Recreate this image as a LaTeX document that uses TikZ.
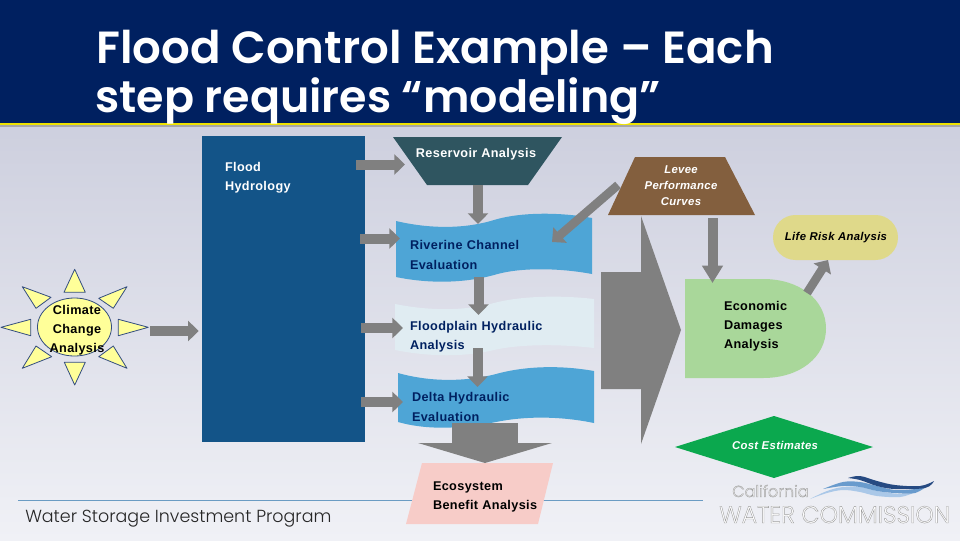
\documentclass[tikz,border=0pt]{standalone}
\usepackage{fontspec}
\usetikzlibrary{calc,arrows.meta,shapes.geometric}
\setmainfont{Liberation Sans}
\newfontfamily\bodyf[LetterSpace=3]{Liberation Sans}
\newfontfamily\titlef{Poppins SemiBold}
\newfontfamily\footf{Poppins Light}
\newfontfamily\logof[FakeStretch=0.98]{Poppins Light}
\definecolor{navy}{RGB}{0,32,96}
\definecolor{txtnavy}{RGB}{0,32,96}
\definecolor{hydroc}{RGB}{19,84,136}
\definecolor{resc}{RGB}{47,85,96}
\definecolor{wave}{RGB}{78,165,214}
\definecolor{wavelt}{RGB}{224,236,242}
\definecolor{rosec}{RGB}{247,204,200}
\definecolor{levc}{RGB}{131,95,62}
\definecolor{econc}{RGB}{169,215,154}
\definecolor{lifec}{RGB}{223,217,138}
\definecolor{diac}{RGB}{11,168,78}
\definecolor{sunc}{RGB}{255,255,153}
\definecolor{arrc}{RGB}{128,128,128}
\definecolor{lgd}{RGB}{38,74,130}
\definecolor{lgm}{RGB}{105,155,205}
\definecolor{lgl}{RGB}{170,200,232}
\tikzset{
 lbl/.style={inner sep=0pt,font=\bodyf\bfseries\fontsize{9.5}{14.4}\selectfont,align=left},
 ilbl/.style={lbl,font=\bodyf\bfseries\itshape\fontsize{8.5}{12}\selectfont,align=center},
 ttl/.style={anchor=base west,inner sep=0pt,text=white},
 blk/.style={draw=arrc,line width=7.5pt,-{Triangle[length=8pt,width=15pt,fill=arrc]}},
 ray/.style={fill=sunc,draw=navy!80,line width=.6pt,line join=round},
 wv/.style={smooth,tension=.6},
}
\newcommand{\outl}[1]{\special{pdf:code 2 Tr 0.3 w 0.62 G}#1\special{pdf:code 0 Tr 0 G}}
\begin{document}
\begin{tikzpicture}[x=0.75pt,y=-0.75pt]
\useasboundingbox (0,0) rectangle (960,540);
\shade[top color={rgb,255:red,205;green,207;blue,222},bottom color={rgb,255:red,240;green,241;blue,246}] (0,120) rectangle (960,540);
\fill[navy] (0,0) rectangle (960,123);
\fill[gray!70] (0,124) rectangle (960,126.5);
\fill[yellow!85!olive] (0,122.6) rectangle (960,124.6);
\node[ttl,font=\titlef\fontsize{33.8}{34}\selectfont] (title1) at (96,63) {Flood Control Example – Each};
\node[ttl,font=\titlef\fontsize{33.3}{34}\selectfont] (title2) at (95,112) {step requires “modeling”};
% footer
\draw[draw={rgb,255:red,106;green,155;blue,195},line width=.7pt] (18,500.5) coordinate (fl) -- (703,500.5) coordinate (fr);
\node[anchor=base west,inner sep=0pt,text=black!85,font=\footf\fontsize{13.1}{14}\selectfont] (foot) at (25,522) {Water Storage Investment Program};
% hydrology
\node[fill=hydroc,inner sep=0pt,minimum width=163*.75pt,minimum height=306*.75pt] (hydro) at (283.5,289) {};
\node[lbl,text=white,text width=117*.75pt] (hydroT) at (283.5,178) {Flood\\Hydrology};
% shapes
\fill[resc] (393,137) -- (562,137) -- (528,185) -- (427,185) -- cycle;
\node[lbl,text=white] (res) at (476,154) {Reservoir Analysis};
\fill[wave] (396,221) .. controls (430,229) and (465,229) .. (494,220) .. controls (520,212) and (560,212) .. (592,218) -- (592,274) .. controls (560,268) and (520,267) .. (494,275) .. controls (465,283) and (430,284) .. (396,277) -- cycle;
\node[lbl,text=txtnavy,text width=168*.75pt] (riv) at (494,255) {Riverine Channel\\Evaluation};
\fill[wavelt] (395,304) .. controls (430,311) and (465,311) .. (494,303) .. controls (520,296) and (560,295) .. (594,299) -- (594,348) .. controls (560,344) and (520,344) .. (494,350) .. controls (465,357) and (430,357) .. (395,350) -- cycle;
\node[lbl,text=txtnavy,text width=169*.75pt] (flp) at (494.5,337) {Floodplain Hydraulic\\Analysis};
\fill[wave] (398,373) .. controls (430,382) and (465,382) .. (496,374) .. controls (525,366) and (560,365) .. (594,371) -- (594,423) .. controls (560,416) and (525,416) .. (496,422) .. controls (465,428) and (430,431) .. (398,422) -- cycle;
\node[lbl,text=txtnavy,text width=168*.75pt] (del) at (496,407) {Delta Hydraulic\\Evaluation};
\fill[rosec] (422,463) -- (553,463) -- (538,524) -- (406,524) -- cycle;
\node[lbl,text=black,text width=110*.75pt] (eco) at (488,497) {Ecosystem\\Benefit Analysis};
\fill[levc] (635,157) -- (725,157) -- (755,215) -- (608,215) -- cycle;
\node[ilbl,text=white] (lev) at (681,186) {Levee\\Performance\\Curves};
\fill[econc] (685,279) -- (763,279) .. controls (800,279) and (826,300) .. (826,328.5) .. controls (826,357) and (800,378) .. (763,378) -- (685,378) -- cycle;
\node[lbl,text=black,text width=63*.75pt] (econ) at (755.5,326) {Economic\\Damages\\Analysis};
\fill[lifec,rounded corners=16.8pt] (773,215) rectangle (898,260);
\node[ilbl,text=black] (life) at (836,238) {Life Risk Analysis};
\fill[diac] (675,447) -- (774,416) -- (873,447) -- (774,478) -- cycle;
\node[ilbl,text=white] (dia) at (775,445) {Cost Estimates};
% sun
\foreach \p in {{(74.7,269.3) -- (64,292.3) -- (85.3,292.3)},{(148.3,327.3) -- (118.3,319.3) -- (118.3,335.7)},{(1,327.3) -- (30.7,319.3) -- (30.7,335.7)},{(74.7,385) -- (64.3,362.3) -- (85.3,362.3)},{(127,286.7) -- (98.7,298.3) -- (113.3,308.3)},{(22.3,286.7) -- (51,297.3) -- (36,308.3)},{(22.3,368.3) -- (36,346) -- (51.7,356.7)},{(127,368.3) -- (113.3,346) -- (98.7,356.7)}}{\draw[ray] \p -- cycle;}
\node[ellipse,draw=navy!80,line width=.6pt,fill=sunc,minimum width=74*.75pt,minimum height=58*.75pt,inner sep=0pt] (sunb) at (74.5,327) {};
\node[lbl,align=center,text=black] (sun) at (77,330.5) {Climate\\Change\\Analysis};
% big arrow
\fill[arrc] (601,272) -- (641,272) -- (641,216) -- (681,330) -- (641,444) -- (641,389) -- (601,389) -- cycle;
% connectors
\draw[blk] ($(sunb)+(75.5,4)$) -- ($(hydro.west)+(-3,42)$);
\draw[blk] ($(hydro.east)+(-9,-124.5)$) -- ($(res)+(-71,10.5)$);
\draw[blk] ($(hydro.east)+(-5,-50.5)$) -- ($(riv)+(-94,-16.5)$);
\draw[blk] ($(hydro.east)+(-4,39)$) -- ($(flp)+(-91.5,-9)$);
\draw[blk] ($(hydro.east)+(-4,113)$) -- ($(del)+(-93,-5)$);
\draw[blk] ($(res)+(2,31)$) -- ($(riv)+(-16,-31)$);
\draw[blk] ($(riv)+(-15.5,22)$) -- ($(flp)+(-16,-22)$);
\draw[blk] ($(flp)+(-17,11)$) -- ($(del)+(-18.5,-20)$);
\draw[draw=arrc,line width=49.5pt,-{Triangle[length=15pt,width=100pt,fill=arrc]}] ($(del)+(-11,16)$) -- ($(eco)+(-3,-34)$);
\draw[blk,line width=6.5pt] ($(lev)+(-63,-1)$) -- ($(riv)+(58,-13)$);
\draw[blk,-{Triangle[length=13pt,width=15pt,fill=arrc]}] ($(lev)+(31.5,32)$) -- ($(econ)+(-43,-43)$);
\draw[blk,line width=6.5pt] ($(econ)+(51.5,-33)$) -- ($(life)+(-8,22)$);
% logo
\fill[lgl] plot[wv] coordinates {(810,499) (827,491) (843,487) (860,487) (877,491) (900,494) (913,493)} -- plot[wv] coordinates {(913,493) (900,497) (877,496) (860,492) (843,490) (827,493) (810,499)} -- cycle;
\fill[lgm] plot[wv] coordinates {(823,489) (843,482) (860,482) (877,486) (895,490) (915,489) (930,484)} -- plot[wv] coordinates {(930,484) (915,493) (895,493) (877,491) (860,487) (843,486) (823,489)} -- cycle;
\fill[lgd] plot[wv] coordinates {(848,478) (860,476) (877,481) (895,485) (920,486) (934,481)} -- plot[wv] coordinates {(934,481) (925,488) (895,489) (877,486) (860,480) (848,478)} -- cycle;
\node[anchor=base west,inner sep=0pt,text=white,font=\footf\fontsize{12}{12}\selectfont] (logo1) at (732,497) {\outl{California}};
\node[anchor=base west,inner sep=0pt,text=white,font=\logof\fontsize{18}{18}\selectfont] (logo2) at (719,523) {\outl{WATER COMMISSION}};
\end{tikzpicture}
\end{document}
